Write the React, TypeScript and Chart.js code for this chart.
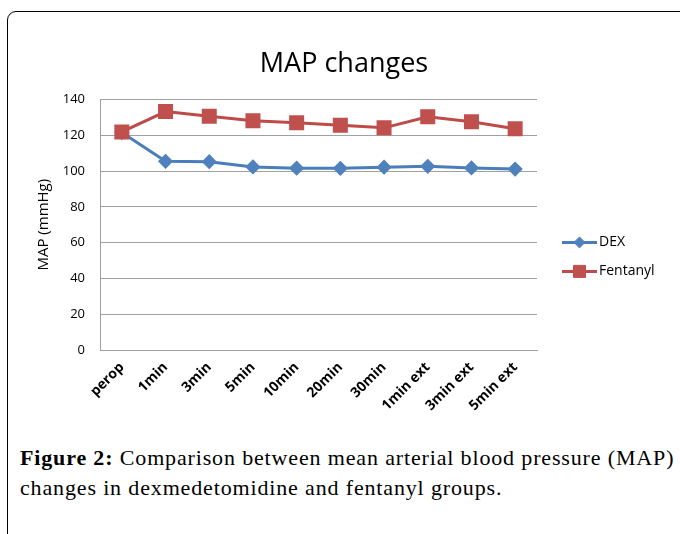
import React, { useEffect, useRef } from "react";
import { Chart, registerables } from "chart.js";
import { drawPoint } from "chart.js/helpers";

Chart.register(...registerables);

const categories = ["perop", "1min", "3min", "5min", "10min", "20min", "30min", "1min ext", "3min ext", "5min ext"];
const dexValues = [121.5, 105.4, 105.2, 102.3, 101.6, 101.5, 102.1, 102.6, 101.7, 101.1];
const fentanylValues = [121.8, 133.2, 130.6, 128.1, 126.9, 125.6, 124.1, 130.3, 127.5, 123.6];
const seriesNames = ["DEX", "Fentanyl"];
const chartTitle = "MAP changes";
const yAxisTitle = "MAP (mmHg)";
const yMin = 0;
const yMax = 140;
const yStep = 20;

const DEX_LINE = "#4a7ebb";
const DEX_POINT = "#4f81bd";
const FEN_LINE = "#be4b48";
const FEN_POINT = "#c0504d";
const GRID = "#a0a0a0";

const lineLegend = {
  id: "lineLegend",
  afterDraw(chart: any) {
    const { ctx, chartArea } = chart;
    const x0 = chartArea.right + 25;
    const items = [0, 1];
    items.forEach((i) => {
      const ds = chart.data.datasets[i];
      const y = chartArea.top + 143 + i * 29;
      ctx.save();
      ctx.strokeStyle = ds.borderColor;
      ctx.lineWidth = 3;
      ctx.beginPath();
      ctx.moveTo(x0, y);
      ctx.lineTo(x0 + 35, y);
      ctx.stroke();
      ctx.fillStyle = ds.pointBackgroundColor;
      ctx.strokeStyle = ds.pointBorderColor;
      ctx.lineWidth = 1;
      drawPoint(ctx, { pointStyle: ds.pointStyle, rotation: 0, radius: ds.pointRadius, borderWidth: 1 }, x0 + 17.5, y);
      ctx.fillStyle = "#000";
      ctx.font = "14px 'Open Sans'";
      ctx.textBaseline = "middle";
      ctx.textAlign = "left";
      ctx.fillText(ds.label, x0 + 37, y);
      ctx.restore();
    });
  },
};

function ChartView() {
  const ref = useRef<HTMLCanvasElement | null>(null);
  useEffect(() => {
    if (!ref.current) return;
    const chart = new Chart(ref.current, {
      type: "line",
      data: {
        labels: categories,
        datasets: [
          {
            label: seriesNames[0],
            data: dexValues,
            borderColor: DEX_LINE,
            backgroundColor: DEX_POINT,
            pointBackgroundColor: DEX_POINT,
            pointBorderColor: DEX_POINT,
            pointStyle: "rectRot",
            pointRadius: 5.5,
            borderWidth: 3,
            tension: 0,
            order: 1,
          },
          {
            label: seriesNames[1],
            data: fentanylValues,
            borderColor: FEN_LINE,
            backgroundColor: FEN_POINT,
            pointBackgroundColor: FEN_POINT,
            pointBorderColor: FEN_POINT,
            pointStyle: "rect",
            pointRadius: 8.5,
            borderWidth: 3,
            tension: 0,
            order: 0,
          },
        ],
      },
      options: {
        responsive: false,
        animation: false,
        layout: { padding: { left: 8, right: 0, top: 0, bottom: 0 } },
        plugins: {
          legend: { display: false },
          tooltip: { enabled: false },
          title: {
            display: true,
            text: chartTitle,
            color: "#000",
            font: { family: "'Open Sans'", size: 27, weight: "normal" as any },
            padding: { top: 48, bottom: 19 },
          },
        },
        scales: {
          x: {
            offset: true,
            grid: { display: false, drawTicks: false },
            border: { display: true, color: GRID, width: 1 },
            ticks: {
              color: "#000",
              font: { family: "'Open Sans'", size: 14, weight: "bold" as any },
              minRotation: 45,
              maxRotation: 45,
              padding: 9,
            },
            afterFit: (scale: any) => {
              scale.height = 90;
            },
          },
          y: {
            min: yMin,
            max: yMax,
            grid: { color: GRID, drawTicks: false, lineWidth: 1 },
            border: { display: true, color: GRID, width: 1 },
            ticks: {
              stepSize: yStep,
              color: "#000",
              font: { family: "'Open Sans'", size: 13 },
              padding: 15,
            },
            title: {
              display: true,
              text: yAxisTitle,
              color: "#000",
              font: { family: "'Open Sans'", size: 15 },
              padding: { top: 27, bottom: 0 },
            },
            afterFit: (scale: any) => {
              scale.width = 92;
            },
          },
          legendSpace: {
            type: "linear",
            position: "right",
            display: true,
            grid: { display: false, drawTicks: false },
            border: { display: false },
            ticks: { display: false },
            afterFit: (scale: any) => {
              scale.width = 143;
            },
          },
        },
      },
      plugins: [lineLegend],
    });
    return () => chart.destroy();
  }, []);
  return <canvas ref={ref} width={680} height={440} style={{ position: "absolute", left: 0, top: 0, width: 680, height: 440 }} />;
}

export default function App() {
  return (
    <div style={{ position: "fixed", left: 0, top: 0, width: 680, height: 534, overflow: "hidden", background: "#fff" }}>
      <div
        style={{
          position: "absolute",
          left: 7,
          top: 11,
          width: 700,
          height: 600,
          border: "1.5px solid #000",
          borderRadius: 9,
          boxSizing: "border-box",
        }}
      />
      <ChartView />
      <div
        style={{
          position: "absolute",
          left: 20,
          top: 443,
          width: 660,
          fontFamily: "'Liberation Serif', serif",
          fontSize: 22,
          letterSpacing: "0.85px",
          lineHeight: "30px",
          color: "#000",
          whiteSpace: "nowrap",
        }}
      >
        <b>Figure 2:</b> Comparison between mean arterial blood pressure (MAP)
        <br />
        changes in dexmedetomidine and fentanyl groups.
      </div>
    </div>
  );
}
